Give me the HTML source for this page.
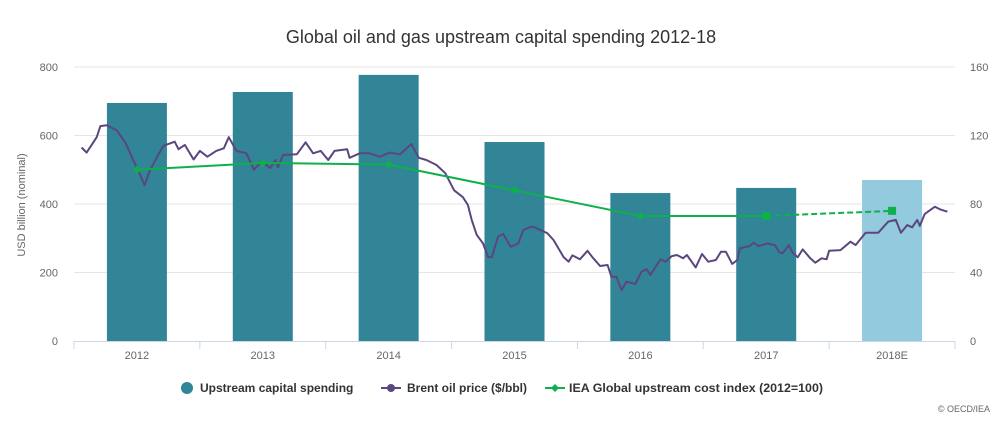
<!DOCTYPE html>
<html><head><meta charset="utf-8"><style>
body{margin:0;background:#fff;}
svg{display:block;font-family:"Liberation Sans",sans-serif;}
</style></head><body>
<svg id="chart" width="1002" height="440">
<text x="501" y="43" text-anchor="middle" font-size="18" fill="#333">Global oil and gas upstream capital spending 2012-18</text>
<g id="grid"></g><g id="bars"></g><g id="axes"></g><g id="lines"></g>
<text transform="translate(25,205) rotate(-90)" text-anchor="middle" font-size="11" fill="#666">USD billion (nominal)</text>
<g font-size="12" font-weight="bold" fill="#333">
<g><circle cx="187" cy="388" r="6" fill="#318597"/><text x="200" y="392">Upstream capital spending</text></g>
<g><line x1="381" y1="388" x2="401" y2="388" stroke="#5b467e" stroke-width="2"/><circle cx="391" cy="388" r="4" fill="#5b467e"/><text x="407" y="392">Brent oil price ($/bbl)</text></g>
<g><line x1="545" y1="388" x2="565" y2="388" stroke="#0db14b" stroke-width="2"/><path d="M555 384 L559 388 L555 392 L551 388Z" fill="#0db14b"/><text x="569" y="392" textLength="254" lengthAdjust="spacingAndGlyphs">IEA Global upstream cost index (2012=100)</text></g>
</g>
<text x="990" y="412" text-anchor="end" font-size="9" fill="#666">© OECD/IEA</text>
</svg>
<script>
const categories=["2012","2013","2014","2015","2016","2017","2018E"];
const capex=[695,727,777,581,432,447,470];
const costIndex=[100,104,103,88,73,73,76];
const leftTicks=[0,200,400,600,800];
const rightTicks=[0,40,80,120,160];
const brentT=[0.06,0.10,0.18,0.21,0.26,0.34,0.41,0.47,0.52,0.56,0.60,0.66,0.71,0.80,0.83,0.88,0.95,1.00,1.06,1.13,1.19,1.23,1.29,1.37,1.43,1.49,1.56,1.60,1.62,1.66,1.77,1.84,1.90,1.96,2.02,2.07,2.17,2.19,2.27,2.35,2.43,2.51,2.59,2.68,2.74,2.80,2.88,2.95,3.02,3.09,3.13,3.16,3.20,3.25,3.29,3.32,3.37,3.41,3.47,3.53,3.57,3.62,3.65,3.76,3.81,3.89,3.93,3.96,4.02,4.08,4.12,4.18,4.24,4.27,4.31,4.35,4.39,4.46,4.51,4.55,4.58,4.66,4.70,4.75,4.79,4.84,4.87,4.94,4.99,5.04,5.10,5.14,5.18,5.23,5.27,5.29,5.37,5.40,5.44,5.51,5.57,5.60,5.63,5.68,5.71,5.75,5.79,5.85,5.89,5.94,5.98,6.00,6.09,6.17,6.21,6.29,6.39,6.47,6.53,6.57,6.62,6.66,6.70,6.72,6.76,6.84,6.88,6.94];
const brentP=[113,110,119,125.5,126,123,115.6,105.7,98,91,99,107.6,114,116.4,112,114.5,106,111,107.6,111,112.5,119,111,109.6,100,105,101,105.7,101.4,108.6,109,116,109.6,111,105.7,111,112,107,109.6,109.6,107.6,110,109,115,107,105.7,102.8,98,88,84,79.4,70.7,62,57,49,49,61,62.5,55,57,64.8,66.4,66.7,63,59,49,46.3,50,47.7,52.7,48.9,43.8,44.4,37.5,37.5,29.8,34.6,33.3,40.5,41.9,38.5,47.7,46.3,49.6,50.2,48.3,50.2,43,50.8,46.3,47.3,52.1,52.1,45,47.3,54.1,55.5,57.4,55.5,57,56,52.1,51.2,56,51.6,48.9,53.5,48.3,45.7,48.3,47.7,52.7,53.1,58,56,63.2,63.2,69.7,70.7,63.2,67.7,66.4,70.7,67.2,74.2,78.4,76.9,75.5];
const NS="http://www.w3.org/2000/svg";
const X0=74,X1=955,Y0=341,Y1=67,band=(X1-X0)/categories.length;
const xc=i=>X0+band*(i+0.5);
const xt=t=>X0+t*band;
const yL=v=>Y0-(v/800)*(Y0-Y1);
const yR=v=>Y0-(v/160)*(Y0-Y1);
function mk(tag,attrs,parent){const e=document.createElementNS(NS,tag);for(const k in attrs)e.setAttribute(k,attrs[k]);document.getElementById(parent).appendChild(e);return e;}
leftTicks.forEach((v,i)=>{
 if(v>0){const g=mk('line',{x1:X0,x2:X1,y1:yL(v),y2:yL(v),stroke:'#e6e6e6'},'grid');
 
 }
 const t=mk('text',{x:58,y:yL(v)+4,'text-anchor':'end','font-size':11,fill:'#666'},'axes');t.textContent=v;
 
 
});
rightTicks.forEach(v=>{
 const t=mk('text',{x:970,y:yR(v)+4,'font-size':11,fill:'#666'},'axes');t.textContent=v;
 
 
});
const ax=mk('line',{x1:X0,x2:X1,y1:Y0+0.5,y2:Y0+0.5,stroke:'#ccd6eb'},'axes');


for(let i=0;i<=categories.length;i++){const tk=mk('line',{x1:X0+band*i,x2:X0+band*i,y1:Y0,y2:Y0+8,stroke:'#ccd6eb'},'axes');
 
 }
categories.forEach((c,i)=>{
 const b=mk('rect',{x:xc(i)-30,y:yL(capex[i]),width:60,height:Y0-yL(capex[i]),fill:i==6?'#93cadd':'#318597'},'bars');
 
 
 const t=mk('text',{x:xc(i),y:359,'text-anchor':'middle','font-size':11,fill:'#666'},'axes');t.textContent=c;
 
 
});
let bd=brentT.map((t,i)=>(i?'L':'M')+xt(t).toFixed(1)+' '+yR(brentP[i]).toFixed(1)).join(' ');
const br=mk('path',{d:bd,fill:'none',stroke:'#5b467e','stroke-width':2,'stroke-linejoin':'round'},'lines');


const cp=costIndex.map((v,i)=>[xc(i),yR(v)]);
const solid=mk('path',{d:cp.slice(0,6).map((p,i)=>(i?'L':'M')+p[0]+' '+p[1]).join(' '),fill:'none',stroke:'#0db14b','stroke-width':2,'stroke-linejoin':'round'},'lines');


const dash=mk('path',{d:'M'+cp[5][0]+' '+cp[5][1]+' L'+cp[6][0]+' '+cp[6][1],fill:'none',stroke:'#0db14b','stroke-width':2,'stroke-dasharray':'6,3'},'lines');


cp.forEach((p,i)=>{let m;
 if(i>=5)m=mk('rect',{x:p[0]-4,y:p[1]-4,width:8,height:8,fill:'#0db14b'},'lines');
 else m=mk('path',{d:`M${p[0]} ${p[1]-4} L${p[0]+4} ${p[1]} L${p[0]} ${p[1]+4} L${p[0]-4} ${p[1]}Z`,fill:'#0db14b'},'lines');
 
 
});
</script>
</body></html>
